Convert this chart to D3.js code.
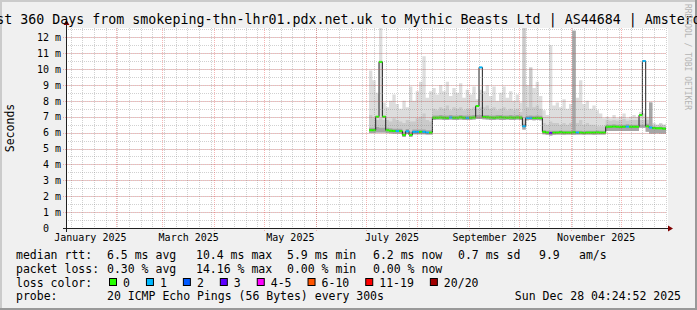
<!DOCTYPE html>
<html>
<head>
<meta charset="utf-8">
<script src="https://cdn.jsdelivr.net/npm/d3@7"></script>
<style>
html, body { margin: 0; padding: 0; background: #f0f0f0; }
svg { display: block; font-family: "DejaVu Sans Mono", monospace; }
text { white-space: pre; }
</style>
</head>
<body>
<div id="chart"></div>
<script>
// time window: last 360 days up to the graph timestamp
const graphEnd = new Date(Date.UTC(2025, 11, 28, 4, 24, 52));
const graphStart = d3.utcDay.offset(graphEnd, -360);
const firstSample = new Date(Date.UTC(2025, 6, 3));
const stepDays = 2;
const yMax = 12.58;

// median rtt per 2-day step (ms)
const median = [
  6.15, 6.15, 7.0, 10.45, 7.0, 6.15, 6.12, 6.1, 6.1, 6.1,
  5.85, 6.08, 5.85, 6.05, 6.05, 6.05, 6.05, 6.0, 6.0, 6.94,
  6.94, 6.95, 6.94, 6.93, 6.95, 6.94, 6.94, 6.96, 6.94, 6.93,
  6.94, 6.95, 7.67, 10.1, 6.98, 6.96, 6.95, 6.94, 6.95, 6.96,
  6.95, 6.94, 6.95, 6.94, 6.95, 6.94, 6.4, 6.92, 6.93, 6.92,
  6.93, 6.92, 6.05, 6.0, 5.97, 6.0, 6.0, 6.02, 6.0, 6.0,
  6.0, 6.02, 6.0, 6.0, 5.98, 6.0, 6.0, 6.0, 6.01, 6.0,
  6.0, 6.37, 6.37, 6.38, 6.37, 6.36, 6.37, 6.38, 6.37, 6.37,
  6.37, 7.1, 10.5, 6.4, 6.32, 6.28, 6.27, 6.27, 6.25, 6.22
];
// lost pings (of 20) per step
const loss = [
  0, 0, 0, 0, 0, 0, 0, 0, 1, 0,
  0, 1, 0, 1, 1, 0, 1, 1, 0, 0,
  0, 0, 0, 0, 1, 0, 0, 0, 0, 1,
  0, 0, 0, 1, 0, 0, 0, 0, 0, 0,
  0, 0, 0, 0, 0, 0, 1, 1, 1, 0,
  0, 0, 0, 0, 3, 0, 0, 0, 0, 0,
  0, 0, 1, 0, 0, 0, 0, 0, 0, 0,
  0, 0, 0, 0, 0, 0, 0, 1, 0, 0,
  0, 0, 1, 0, 1, 0, 0, 0, 0, 0
];
// smoke: lowest ping
const smokeLo = [
  5.98, 5.98, 6.0, 6.0, 6.0, 5.98, 5.96, 5.95, 5.95, 5.95,
  5.72, 5.92, 5.72, 5.9, 5.9, 5.9, 5.9, 5.88, 5.88, 6.8,
  6.82, 6.82, 6.8, 6.8, 6.82, 6.8, 6.8, 6.82, 6.8, 6.8,
  6.8, 6.82, 6.85, 6.85, 6.84, 6.82, 6.8, 6.8, 6.82, 6.8,
  6.8, 6.82, 6.8, 6.8, 6.82, 6.8, 6.2, 6.78, 6.8, 6.78,
  6.8, 6.78, 5.9, 5.86, 5.82, 5.86, 5.88, 5.88, 5.86, 5.88,
  5.88, 5.86, 5.88, 5.88, 5.86, 5.88, 5.88, 5.86, 5.88, 5.88,
  5.88, 6.1, 6.1, 6.1, 6.1, 6.1, 6.1, 6.1, 6.1, 6.1,
  6.1, 6.3, 6.3, 6.05, 5.95, 5.95, 5.96, 5.95, 5.95, 5.95
];
// smoke: dense core just above the median
const smokeCore = [
  6.3, 6.3, 6.35, 6.3, 6.3, 6.3, 6.28, 6.25, 6.25, 6.25,
  6.05, 6.22, 6.05, 6.2, 6.2, 6.2, 6.2, 6.15, 6.15, 7.08,
  7.08, 7.1, 7.08, 7.08, 7.1, 7.08, 7.08, 7.1, 7.08, 7.08,
  7.08, 7.1, 7.1, 7.1, 7.1, 7.1, 7.08, 7.08, 7.1, 7.1,
  7.08, 7.08, 7.1, 7.08, 7.1, 7.08, 6.55, 7.06, 7.08, 7.06,
  7.08, 7.06, 6.15, 6.12, 6.12, 6.12, 6.12, 6.14, 6.12, 6.12,
  6.12, 12.4, 6.12, 6.12, 6.1, 6.12, 6.12, 6.12, 6.13, 6.12,
  6.12, 6.5, 6.5, 6.52, 6.5, 6.5, 6.5, 6.52, 6.5, 6.5,
  6.5, 6.5, 6.5, 6.55, 7.9, 6.38, 6.36, 6.38, 6.36, 6.34
];
// smoke: upper middle pings
const smokeMid = [
  7.1, 6.9, 6.8, 6.9, 6.8, 6.8, 6.7, 6.9, 6.8, 6.7,
  6.6, 6.8, 6.7, 6.7, 6.9, 7.0, 7.2, 6.8, 6.7, 7.5,
  7.4, 7.6, 7.5, 7.7, 7.4, 7.6, 7.5, 7.6, 7.4, 7.5,
  7.5, 7.6, 7.5, 7.6, 7.6, 7.7, 7.5, 7.6, 7.4, 7.5,
  7.6, 7.4, 7.5, 7.4, 7.5, 7.3, 12.7, 7.6, 10.1, 7.6,
  7.7, 7.5, 6.6, 6.5, 6.7, 6.6, 6.6, 6.5, 6.6, 6.5,
  6.6, 12.4, 6.6, 6.8, 6.5, 6.6, 6.5, 6.5, 6.4, 6.4,
  6.4, 6.8, 6.75, 6.8, 6.75, 6.8, 6.85, 6.75, 6.8, 6.8,
  6.8, 6.8, 6.8, 6.8, 7.9, 6.5, 6.5, 6.55, 6.5, 6.5
];
// smoke: highest ping
const smokeMax = [
  9.9, 9.3, 8.5, 12.6, 7.9, 7.6, 8.0, 8.4, 7.8, 7.5,
  8.0, 7.6, 8.9, 8.0, 8.6, 9.2, 10.8, 8.2, 8.6, 8.8,
  8.4, 9.0, 8.6, 9.2, 8.3, 8.8, 8.5, 9.1, 8.2, 8.7,
  8.4, 8.9, 8.1, 8.7, 8.6, 9.0, 8.3, 8.9, 8.0, 8.5,
  8.9, 8.2, 8.6, 8.0, 8.4, 7.9, 12.7, 9.0, 10.1, 8.8,
  9.2, 8.3, 7.4, 7.1, 11.5, 7.7, 7.9, 7.6, 8.1, 7.5,
  7.8, 12.4, 8.2, 9.3, 7.8, 8.0, 7.5, 7.7, 7.4, 7.2,
  6.9, 7.0, 6.9, 7.1, 6.9, 7.0, 7.2, 6.9, 7.0, 7.1,
  7.0, 7.3, 7.2, 7.0, 7.9, 6.6, 6.5, 6.6, 6.5, 6.6
];

const lossLabels = ["0", "1", "2", "3", "4-5", "6-10", "11-19", "20/20"];
const lossColors = ["#26ff00", "#00b8ff", "#0059ff", "#5e00ff", "#ff00ff", "#ff5500", "#ff0000", "#a10000"];
const lossBins = [1, 2, 3, 4, 6, 11, 20];

const statNames = ["avg", "max", "min", "now", "sd"];
const rttStats = [6.5, 10.4, 5.9, 6.2, 0.7];
const lossStats = [0.30, 14.16, 0.00, 0.00];
const amPerSec = 9.9;
const probeText = "20 ICMP Echo Pings (56 Bytes) every 300s";
const stampText = "Sun Dec 28 04:24:52 2025";
const titleText = "Last 360 Days from smokeping-thn-lhr01.pdx.net.uk to Mythic Beasts Ltd | AS44684 | Amsterdam";

// layout
const width = 697, height = 310;
const margin = { top: 28, right: 31, bottom: 82, left: 66 };
const plotW = width - margin.left - margin.right;
const plotH = height - margin.top - margin.bottom;
const statCols = [107, 196, 287, 373, 458];
const rowY = [258.5, 272.5, 286.5, 300];

const svg = d3.select("#chart").append("svg")
  .attr("width", width)
  .attr("height", height);

// background + 3d frame
svg.append("rect").attr("width", width).attr("height", height).attr("fill", "#f0f0f0");
svg.append("path").attr("d", `M0,1H${width - 1}M1,0V${height - 1}`).attr("stroke", "#cbcbcb").attr("stroke-width", 2);
svg.append("path").attr("d", `M0,${height - 1}H${width}M${width - 1},0V${height}`).attr("stroke", "#999999").attr("stroke-width", 2);

const x = d3.scaleUtc().domain([graphStart, graphEnd]).range([margin.left, margin.left + plotW]);
const y = d3.scaleLinear().domain([0, yMax]).range([margin.top + plotH, margin.top]);
const lossColor = d3.scaleThreshold().domain(lossBins).range(lossColors);

svg.append("rect")
  .attr("x", margin.left).attr("y", margin.top)
  .attr("width", plotW + 2).attr("height", plotH)
  .attr("fill", "#ffffff");

svg.append("clipPath").attr("id", "plot")
  .append("rect")
  .attr("x", margin.left).attr("y", margin.top)
  .attr("width", plotW).attr("height", plotH);

// samples
const samples = median.map((m, i) => ({
  t: d3.utcDay.offset(firstSample, i * stepDays),
  med: m, loss: loss[i],
  lo: smokeLo[i], core: smokeCore[i], mid: smokeMid[i], max: smokeMax[i]
}));
const last = samples[samples.length - 1];
const stepped = samples.concat([{ ...last, t: graphEnd }]);

const plot = svg.append("g").attr("clip-path", "url(#plot)");

const smoke = [
  { key: "max", fill: "#dddddd" },
  { key: "mid", fill: "#cacaca" },
  { key: "core", fill: "#a6a6a6" }
];
smoke.forEach(s => {
  plot.append("path")
    .datum(stepped)
    .attr("fill", s.fill)
    .attr("d", d3.area()
      .x(d => x(d.t))
      .y0(d => y(d.lo))
      .y1(d => y(d[s.key]))
      .curve(d3.curveStepAfter));
});

// grid on top of the smoke
const grid = svg.append("g").attr("shape-rendering", "crispEdges").attr("fill", "none");
const minorX = d3.utcSunday.range(graphStart, graphEnd);
const majorX = d3.utcMonth.range(graphStart, graphEnd);
grid.selectAll(".vminor").data(minorX).join("line")
  .attr("x1", d => Math.round(x(d)) + 0.5).attr("x2", d => Math.round(x(d)) + 0.5)
  .attr("y1", margin.top).attr("y2", margin.top + plotH)
  .attr("stroke", "rgba(140,140,140,0.4)").attr("stroke-dasharray", "1,1");
grid.selectAll(".hminor").data(y.ticks(25)).join("line")
  .attr("x1", margin.left).attr("x2", margin.left + plotW)
  .attr("y1", d => Math.round(y(d)) + 0.5).attr("y2", d => Math.round(y(d)) + 0.5)
  .attr("stroke", "rgba(140,140,140,0.4)").attr("stroke-dasharray", "1,1");
grid.selectAll(".vmajor").data(majorX).join("line")
  .attr("x1", d => Math.round(x(d)) + 0.5).attr("x2", d => Math.round(x(d)) + 0.5)
  .attr("y1", margin.top).attr("y2", margin.top + plotH + 3)
  .attr("stroke", "rgba(230,50,50,0.36)").attr("stroke-dasharray", "1,1");
grid.selectAll(".hmajor").data(y.ticks(12)).join("line")
  .attr("x1", margin.left - 3).attr("x2", margin.left + plotW)
  .attr("y1", d => Math.round(y(d)) + 0.5).attr("y2", d => Math.round(y(d)) + 0.5)
  .attr("stroke", "rgba(230,50,50,0.36)").attr("stroke-dasharray", "1,1");

// median: thin dark line, then loss coloured steps
plot.append("path")
  .datum(stepped)
  .attr("fill", "none")
  .attr("stroke", "#202020")
  .attr("stroke-width", 1)
  .attr("d", d3.line().x(d => x(d.t)).y(d => y(d.med)).curve(d3.curveStepAfter));

plot.selectAll(".med").data(samples).join("line")
  .attr("x1", d => x(d.t))
  .attr("x2", (d, i) => x(i + 1 < samples.length ? samples[i + 1].t : graphEnd))
  .attr("y1", d => y(d.med)).attr("y2", d => y(d.med))
  .attr("stroke", d => lossColor(d.loss))
  .attr("stroke-width", 2);

// axes lines + arrows
const axisY = Math.round(y(0)) + 0.5;
const axisX = margin.left + 0.5;
svg.append("path")
  .attr("d", `M${margin.left - 3},${axisY}H${margin.left + plotW + 3}M${axisX},${axisY + 3}V${margin.top - 4}`)
  .attr("stroke", "#202020").attr("fill", "none").attr("shape-rendering", "crispEdges");
svg.append("path")
  .attr("d", `M${margin.left + plotW + 2},${axisY - 3}L${margin.left + plotW + 7},${axisY}L${margin.left + plotW + 2},${axisY + 3}Z` +
    `M${axisX - 3},${margin.top - 3}L${axisX},${margin.top - 8}L${axisX + 3},${margin.top - 3}Z`)
  .attr("fill", "#7f0000");

// y labels
const yAxis = svg.append("g")
  .attr("transform", `translate(${margin.left},0)`)
  .call(d3.axisLeft(y).tickValues(y.ticks(12)).tickSize(0).tickPadding(5)
    .tickFormat(d => d === 0 ? "0  " : `${d} m`));
yAxis.select(".domain").remove();
yAxis.attr("font-family", "DejaVu Sans Mono").attr("font-size", 10);
yAxis.selectAll("text").attr("fill", "#000");

// x labels, centred on each labelled month
const labelMonths = d3.utcMonth.every(2).range(d3.utcMonth.floor(graphStart), graphEnd);
const labelMid = labelMonths.map(m => new Date((+m + +d3.utcMonth.offset(m, 1)) / 2));
const xAxis = svg.append("g")
  .attr("transform", `translate(0,${y(0)})`)
  .call(d3.axisBottom(x).tickValues(labelMid).tickSize(0).tickPadding(6)
    .tickFormat(d3.utcFormat("%B %Y")));
xAxis.select(".domain").remove();
xAxis.attr("font-family", "DejaVu Sans Mono").attr("font-size", 10);
xAxis.selectAll("text").attr("fill", "#000");

// title, axis title, watermark
svg.append("text")
  .attr("x", width / 2).attr("y", 24)
  .attr("text-anchor", "middle").attr("font-size", 13.3)
  .text(titleText);
svg.append("text")
  .attr("transform", `translate(10,${margin.top + plotH / 2}) rotate(-90)`)
  .attr("text-anchor", "middle").attr("dominant-baseline", "central")
  .attr("font-size", 11.5)
  .text("Seconds");
svg.append("text")
  .attr("transform", `translate(685,4) rotate(90)`)
  .attr("font-size", 8).attr("fill", "#b4b4b4")
  .text("RRDTOOL / TOBI OETIKER");

// legend
const legend = svg.append("g").attr("font-size", 11.5);
const put = (tx, ty, s, anchor) => legend.append("text")
  .attr("x", tx).attr("y", ty).attr("text-anchor", anchor || "start").text(s);

put(16, rowY[0], "median rtt:");
rttStats.forEach((v, i) => put(statCols[i], rowY[0], `${v.toFixed(1)} ms ${statNames[i]}`));
put(539, rowY[0], amPerSec.toFixed(1));
put(579, rowY[0], "am/s");

put(16, rowY[1], "packet loss:");
lossStats.forEach((v, i) => put(statCols[i], rowY[1], `${v.toFixed(2)} % ${statNames[i]}`));

put(16, rowY[2], "loss color:");
let cx = 109;
lossLabels.forEach((lab, i) => {
  legend.append("rect")
    .attr("x", cx + 0.5).attr("y", rowY[2] - 8)
    .attr("width", 7).attr("height", 7)
    .attr("fill", lossColors[i]).attr("stroke", "#000");
  const t = put(cx + 14, rowY[2], lab);
  cx += 14 + t.node().getComputedTextLength() + 16;
});

put(16, rowY[3], "probe:");
put(107, rowY[3], probeText);
put(681, rowY[3], stampText, "end");
</script>
</body>
</html>
